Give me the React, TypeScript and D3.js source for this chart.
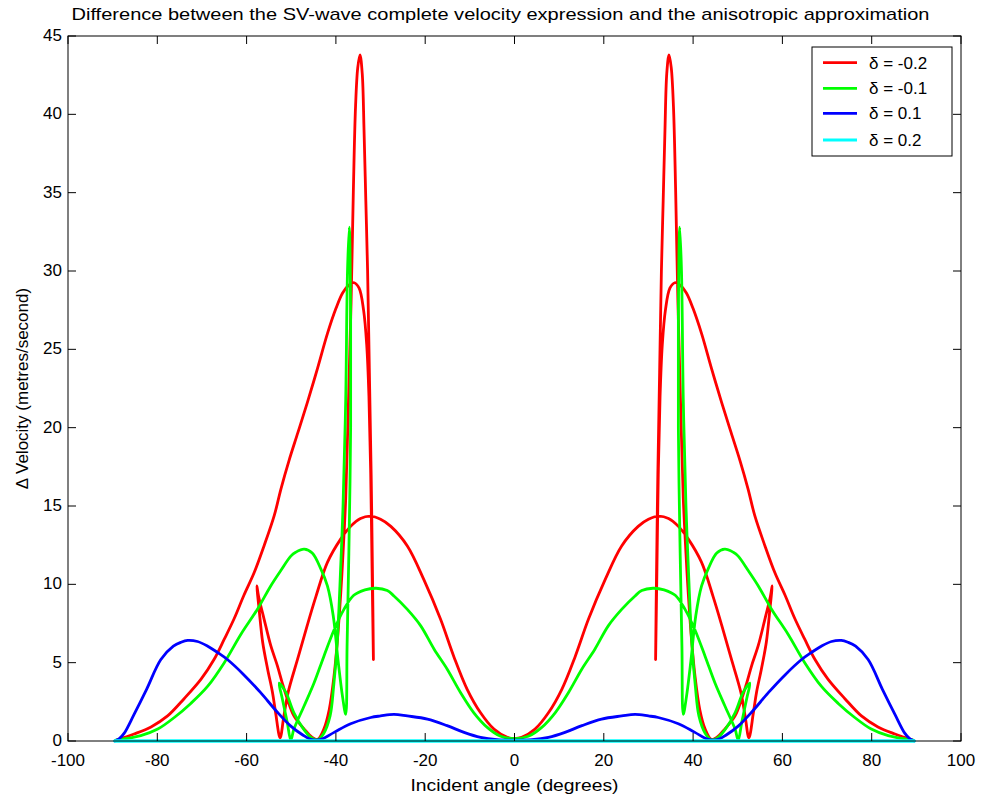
import React from "react";
import * as d3 from "d3";

const TITLE = "Difference between the SV-wave complete velocity expression and the anisotropic approximation";
const X_LABEL = "Incident angle (degrees)";
const Y_LABEL = "\u0394 Velocity (metres/second)";
const X_TICKS = [-100, -80, -60, -40, -20, 0, 20, 40, 60, 80, 100];
const Y_TICKS = [0, 5, 10, 15, 20, 25, 30, 35, 40, 45];
const SERIES_LABELS = ["\u03b4 = -0.2", "\u03b4 = -0.1", "\u03b4 = 0.1", "\u03b4 = 0.2"];
const SERIES_COLORS = ["#ff0000", "#00ff00", "#0000ff", "#00ffff"];

// delta = -0.2 (path order, x = incident angle, y = delta velocity)
const redPath: [number, number][] = [
  [-89.3, 0.05], [-85.2, 0.45], [-81.4, 0.9], [-77.7, 1.6], [-74, 2.7], [-70.2, 3.95], [-67.3, 5.2],
  [-65, 6.5], [-62.8, 7.8], [-60.6, 9.3], [-58.3, 10.75], [-56.1, 12.45], [-53.8, 14.4], [-52.3, 16.1],
  [-50.5, 17.9], [-48.5, 19.7], [-46.4, 21.6], [-44.1, 23.8], [-41.9, 26], [-40, 27.6], [-38.5, 28.6],
  [-37.1, 29.1], [-35.9, 29.25], [-34.8, 28.9], [-33.8, 27.5], [-33.1, 25.3], [-32.6, 22], [-32.2, 17],
  [-31.9, 11], [-31.6, 5.2],
  [-31.8, 10.5], [-32.1, 17], [-32.5, 23.5], [-32.9, 30], [-33.3, 34.5], [-33.7, 39], [-34.1, 42.6], [-34.6, 43.8],
  [-35.1, 43.0], [-35.6, 40.5], [-36.1, 35], [-36.6, 28], [-37.2, 21.5], [-37.8, 15.5], [-38.4, 12], [-38.9, 9.5],
  [-39.7, 6.3], [-40.4, 4.2], [-41.5, 2.0], [-42.7, 0.76], [-44.1, 0.1],
  [-45.3, 0.23], [-47.1, 0.76], [-49.4, 1.6], [-50.9, 2.7], [-52.0, 3.7], [-53.1, 4.8], [-54.6, 6.1],
  [-56.1, 7.8], [-57.3, 9.2], [-57.7, 9.9],
  [-57.2, 8.4], [-56.4, 6.3], [-55.3, 4.6], [-54.2, 3.1], [-53.5, 1.8], [-52.5, 0.2],
  [-51.7, 1.5], [-50.7, 3.1], [-48.5, 5.3], [-46.4, 7.4], [-44.5, 9.2], [-41.9, 11.4], [-38.9, 12.9],
  [-36.7, 13.7], [-34.5, 14.2], [-32.2, 14.35], [-30, 14.15], [-27.7, 13.7], [-24, 12.45], [-20.3, 10.3],
  [-16.6, 7.8], [-13.6, 5.4], [-10.6, 3.3], [-7.6, 1.8], [-4.6, 0.76], [-1.6, 0.23], [0, 0.15],
  [1.6, 0.23], [4.6, 0.76], [7.6, 1.8], [10.6, 3.3], [13.6, 5.4], [16.6, 7.8], [20.3, 10.3], [24, 12.45],
  [27.7, 13.7], [30, 14.15], [32.2, 14.35], [34.5, 14.2], [36.7, 13.7], [38.9, 12.9], [41.9, 11.4],
  [44.5, 9.2], [46.4, 7.4], [48.5, 5.3], [50.7, 3.1], [51.7, 1.5], [52.5, 0.2],
  [53.5, 1.8], [54.2, 3.1], [55.3, 4.6], [56.4, 6.3], [57.2, 8.4], [57.7, 9.9],
  [57.3, 9.2], [56.1, 7.8], [54.6, 6.1], [53.1, 4.8], [52.0, 3.7], [50.9, 2.7], [49.4, 1.6], [47.1, 0.76],
  [45.3, 0.23], [44.1, 0.1],
  [42.7, 0.76], [41.5, 2.0], [40.4, 4.2], [39.7, 6.3], [38.9, 9.5], [38.4, 12], [37.8, 15.5], [37.2, 21.5],
  [36.6, 28], [36.1, 35], [35.6, 40.5], [35.1, 43.0], [34.6, 43.8],
  [34.1, 42.6], [33.7, 39], [33.3, 34.5], [32.9, 30], [32.5, 23.5], [32.1, 17], [31.8, 10.5], [31.6, 5.2],
  [31.9, 11], [32.2, 17], [32.6, 22], [33.1, 25.3], [33.8, 27.5], [34.8, 28.9], [35.9, 29.25], [37.1, 29.1],
  [38.5, 28.6], [40, 27.6], [41.9, 26], [44.1, 23.8], [46.4, 21.6], [48.5, 19.7], [50.5, 17.9], [52.3, 16.1],
  [53.8, 14.4], [56.1, 12.45], [58.3, 10.75], [60.6, 9.3], [62.8, 7.8], [65, 6.5], [67.3, 5.2], [70.2, 3.95],
  [74, 2.7], [77.7, 1.6], [81.4, 0.9], [85.2, 0.45], [89.3, 0.05],
];

// delta = -0.1
const greenPath: [number, number][] = [
  [-89.3, 0.05], [-83.7, 0.34], [-79.9, 0.76], [-76.2, 1.5], [-72.5, 2.4], [-68.7, 3.5], [-65, 5.0],
  [-61.3, 6.8], [-57.6, 8.4], [-54.6, 9.9], [-52.3, 10.9], [-50.1, 11.8], [-49.0, 12.05], [-47.1, 12.25],
  [-45.3, 12.0], [-43.4, 11.0], [-41.9, 9.9], [-40.6, 8.0], [-39.5, 5.1], [-38.5, 2.8], [-37.8, 1.7],
  [-37.5, 6], [-37.1, 12], [-36.7, 20], [-36.7, 27], [-37.0, 32.8],
  [-37.4, 30], [-37.8, 21.8], [-38.4, 15], [-38.9, 11.3], [-39.7, 6.3], [-40.5, 3.5], [-41.3, 1.6],
  [-42.7, 0.5], [-44.1, 0.08],
  [-45.6, 0.23], [-47.5, 0.87], [-49.4, 1.8], [-51.2, 3.1], [-52.7, 3.7],
  [-52.0, 2.7], [-50.9, 1.2], [-50.1, 0.05],
  [-49.4, 0.76], [-47.1, 2.25], [-44.9, 3.7], [-42.7, 5.4], [-40.4, 7.1], [-38.2, 8.4], [-36, 9.3],
  [-33.5, 9.65], [-31, 9.75], [-28.5, 9.6], [-27, 9.26], [-24, 8.4], [-21, 7.35], [-18, 5.86], [-15.1, 4.6],
  [-12.1, 3.1], [-9.1, 1.8], [-6.1, 0.87], [-3.1, 0.3], [0, 0.15],
  [3.1, 0.3], [6.1, 0.87], [9.1, 1.8], [12.1, 3.1], [15.1, 4.6], [18, 5.86], [21, 7.35], [24, 8.4],
  [27, 9.26], [28.5, 9.6], [31, 9.75], [33.5, 9.65], [36, 9.3], [38.2, 8.4], [40.4, 7.1], [42.7, 5.4],
  [44.9, 3.7], [47.1, 2.25], [49.4, 0.76], [50.1, 0.05],
  [50.9, 1.2], [52.0, 2.7], [52.7, 3.7],
  [51.2, 3.1], [49.4, 1.8], [47.5, 0.87], [45.6, 0.23], [44.1, 0.08],
  [42.7, 0.5], [41.3, 1.6], [40.5, 3.5], [39.7, 6.3], [38.9, 11.3], [38.4, 15], [37.8, 21.8], [37.4, 30],
  [37.0, 32.8],
  [36.7, 27], [36.7, 20], [37.1, 12], [37.5, 6], [37.8, 1.7],
  [38.5, 2.8], [39.5, 5.1], [40.6, 8.0], [41.9, 9.9], [43.4, 11.0], [45.3, 12.0], [47.1, 12.25],
  [49.0, 12.05], [50.1, 11.8], [52.3, 10.9], [54.6, 9.9], [57.6, 8.4], [61.3, 6.8], [65, 5.0], [68.7, 3.5],
  [72.5, 2.4], [76.2, 1.5], [79.9, 0.76], [83.7, 0.34], [89.3, 0.05],
];

// delta = 0.1
const bluePath: [number, number][] = [
  [-89.5, 0], [-88.5, 0.15], [-87.4, 0.5], [-85.2, 1.7], [-82.4, 3.3], [-79.2, 5.2], [-76.4, 6.05],
  [-74.7, 6.3], [-73.2, 6.42], [-71, 6.35], [-68.7, 6.05], [-66.5, 5.65], [-64.3, 5.2], [-60.7, 4.25],
  [-56.9, 3.1], [-53.3, 1.9], [-50.1, 0.95], [-47.5, 0.4], [-45.6, 0.1], [-43.4, 0.1], [-40.4, 0.55],
  [-36.7, 1.1], [-32.2, 1.5], [-30, 1.6], [-27, 1.7], [-24, 1.6], [-19.5, 1.4], [-15.1, 0.98],
  [-11.3, 0.55], [-7.6, 0.23], [-3.9, 0.08], [0, 0.05],
  [3.9, 0.08], [7.6, 0.23], [11.3, 0.55], [15.1, 0.98], [19.5, 1.4], [24, 1.6], [27, 1.7], [30, 1.6],
  [32.2, 1.5], [36.7, 1.1], [40.4, 0.55], [43.4, 0.1], [45.6, 0.1], [47.5, 0.4], [50.1, 0.95], [53.3, 1.9],
  [56.9, 3.1], [60.7, 4.25], [64.3, 5.2], [66.5, 5.65], [68.7, 6.05], [71, 6.35], [73.2, 6.42], [74.7, 6.3],
  [76.4, 6.05], [79.2, 5.2], [82.4, 3.3], [85.2, 1.7], [87.4, 0.5], [88.5, 0.15], [89.5, 0],
];

// delta = 0.2
const cyanPath: [number, number][] = [
  [-89.5, 0], [-60, 0], [-30, 0], [0, 0], [30, 0], [60, 0], [89.5, 0],
];

const SERIES = [redPath, greenPath, bluePath, cyanPath];

const W = 981;
const H = 797;
const M = { left: 68, right: 961, top: 36, bottom: 741 };

export default function App() {
  const x = d3.scaleLinear().domain([-100, 100]).range([M.left, M.right]);
  const y = d3.scaleLinear().domain([0, 45]).range([M.bottom, M.top]);
  const line = d3
    .line<[number, number]>()
    .x((d) => x(d[0]))
    .y((d) => y(d[1]))
    .curve(d3.curveCatmullRom.alpha(0.5));
  const font = "'Liberation Sans', Arial, Helvetica, sans-serif";
  const tickLen = 8;
  const legend = { x0: 812, y0: 47, x1: 952, y1: 156 };
  const legendRows = [62.7, 88.3, 113.3, 140];

  return (
    <svg
      width={W}
      height={H}
      style={{ position: "absolute", left: 0, top: 0, background: "#fff" }}
      fontFamily={font}
    >
      <rect x={0} y={0} width={W} height={H} fill="#fff" />
      <text
        x={(M.left + M.right) / 2 - 14}
        y={20}
        textAnchor="middle"
        fontSize={17}
        textLength={858}
        lengthAdjust="spacingAndGlyphs"
        fill="#000"
      >
        {TITLE}
      </text>
      <rect x={M.left} y={M.top} width={M.right - M.left} height={M.bottom - M.top} fill="#fff" />
      {SERIES.map((s, i) => (
        <path
          key={i}
          d={line(s) || ""}
          fill="none"
          stroke={SERIES_COLORS[i]}
          strokeWidth={i === 3 ? 3.5 : 2.8}
          strokeLinejoin="round"
          strokeLinecap="round"
        />
      ))}
      <rect
        x={M.left}
        y={M.top}
        width={M.right - M.left}
        height={M.bottom - M.top}
        fill="none"
        stroke="#000"
        strokeWidth={1}
      />
      {X_TICKS.map((t) => (
        <g key={"x" + t}>
          <line x1={x(t)} x2={x(t)} y1={M.bottom} y2={M.bottom - tickLen} stroke="#000" />
          <line x1={x(t)} x2={x(t)} y1={M.top} y2={M.top + tickLen} stroke="#000" />
          <text x={x(t)} y={M.bottom + 25} textAnchor="middle" fontSize={17} fill="#000">
            {t}
          </text>
        </g>
      ))}
      {Y_TICKS.map((t) => (
        <g key={"y" + t}>
          <line x1={M.left} x2={M.left + tickLen} y1={y(t)} y2={y(t)} stroke="#000" />
          <line x1={M.right} x2={M.right - tickLen} y1={y(t)} y2={y(t)} stroke="#000" />
          <text x={M.left - 6} y={y(t) + 5} textAnchor="end" fontSize={17} fill="#000">
            {t}
          </text>
        </g>
      ))}
      <text
        x={(M.left + M.right) / 2}
        y={791}
        textAnchor="middle"
        fontSize={17}
        textLength={208}
        lengthAdjust="spacingAndGlyphs"
        fill="#000"
      >
        {X_LABEL}
      </text>
      <text
        transform={`translate(28, ${(M.top + M.bottom) / 2}) rotate(-90)`}
        textAnchor="middle"
        fontSize={17}
        fill="#000"
      >
        {Y_LABEL}
      </text>
      <rect
        x={legend.x0}
        y={legend.y0}
        width={legend.x1 - legend.x0}
        height={legend.y1 - legend.y0}
        fill="#fff"
        stroke="#000"
      />
      {SERIES_LABELS.map((lab, i) => (
        <g key={lab}>
          <line
            x1={823}
            x2={857}
            y1={legendRows[i]}
            y2={legendRows[i]}
            stroke={SERIES_COLORS[i]}
            strokeWidth={2.8}
          />
          <text x={869} y={legendRows[i] + 6} fontSize={17} fill="#000">
            {lab}
          </text>
        </g>
      ))}
    </svg>
  );
}
